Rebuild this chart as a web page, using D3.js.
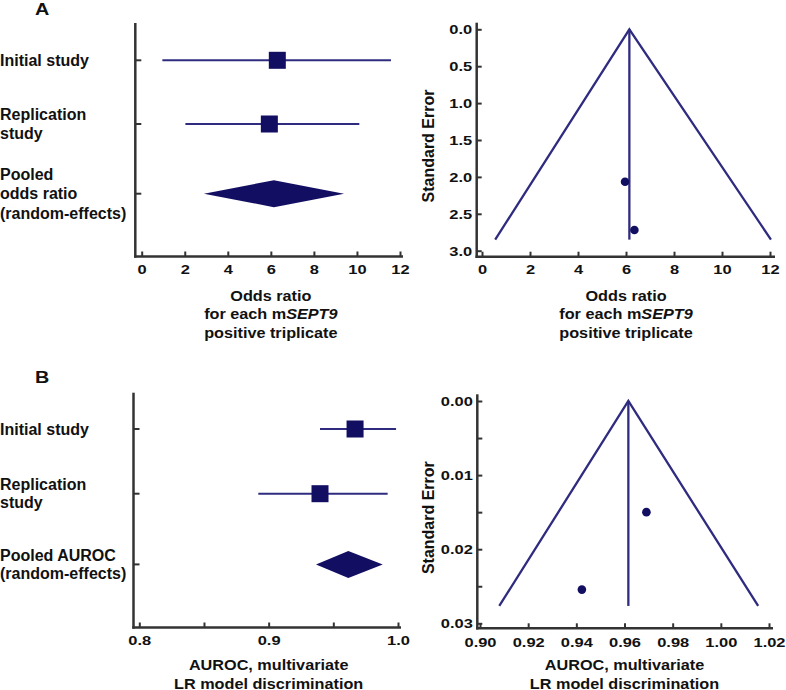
<!DOCTYPE html>
<html>
<head>
<meta charset="utf-8">
<script src="https://cdn.jsdelivr.net/npm/d3@7"></script>
<style>
  body { margin: 0; background: #fff; }
  svg { display: block; }
  text { font-family: 'Liberation Sans', Arial, Helvetica, sans-serif; font-weight: bold; fill: #111; }
</style>
</head>
<body>
<div id="Container"></div>
<script>
// ---- panel A : odds ratio per mSEPT9 positive triplicate
var rowsA = [["Initial study"], ["Replication", "study"], ["Pooled", "odds ratio", "(random-effects)"]];
var orEst = [6.30, 5.93];
var orLow = [0.96, 2.03];
var orHigh = [11.58, 10.11];
var orPooled = [2.89, 6.14, 9.40];        // low, estimate, high
var orTicks = [0, 2, 4, 6, 8, 10, 12];
var orTickLabels = ["0", "2", "4", "6", "8", "10", "12"];
var seTicksA = [0, 0.5, 1, 1.5, 2, 2.5, 3];
var seTickLabelsA = ["0.0", "0.5", "1.0", "1.5", "2.0", "2.5", "3.0"];
var funnelOr = [5.96, 6.35];
var funnelSeA = [2.065, 2.72];
var funnelLimA = [0.55, 12.04, 2.85];     // left bound, right bound, max SE

// ---- panel B : AUROC
var rowsB = [["Initial study"], ["Replication", "study"], ["Pooled AUROC", "(random-effects)"]];
var aucEst = [0.9668, 0.9397];
var aucLow = [0.9397, 0.892];
var aucHigh = [0.9985, 0.992];
var aucPooled = [0.9366, 0.9616, 0.9882];
var aucTicks = [0.8, 0.85, 0.9, 0.95, 1.0];
var aucTickLabels = ["0.8", "", "0.9", "", "1.0"];
var aucTicksF = [0.90, 0.92, 0.94, 0.96, 0.98, 1.00, 1.02];
var aucTickLabelsF = ["0.90", "0.92", "0.94", "0.96", "0.98", "1.00", "1.02"];
var seTicksB = [0, 0.005, 0.01, 0.015, 0.02, 0.025, 0.03];
var seTickLabelsB = ["0.00", "", "0.01", "", "0.02", "", "0.03"];
var funnelAuc = [0.9423, 0.9691];
var funnelSeB = [0.02545, 0.0150];
var funnelLimB = [0.908, 1.0155, 0.02766];

var lineCol = '#2f2c80', markCol = '#120e62', axisCol = '#333';
var tickSx = 1.22, titleSx = 1.12; // tick / title text is drawn wide in the original

var canvas = d3.select('#Container').append('svg')
    .attr('width', 786)
    .attr('height', 690);

function axisLines(g, ax, top, bottom, right) {
    g.append('line')
        .attr('x1', ax).attr('x2', ax)
        .attr('y1', top).attr('y2', bottom + 1.2)
        .attr('stroke', axisCol).attr('stroke-width', 2.5);
    g.append('line')
        .attr('x1', ax - 1.2).attr('x2', right)
        .attr('y1', bottom).attr('y2', bottom)
        .attr('stroke', axisCol).attr('stroke-width', 2.5);
}

function styleTicks(sel) {
    sel.select('.domain').remove();
    sel.selectAll('.tick line').attr('stroke', axisCol).attr('stroke-width', 2);
    sel.selectAll('.tick text')
        .attr('font-size', 13.5)
        .attr('fill', '#111')
        .attr('font-family', null);
}

function xTitle(g, cx, y, lines) {
    lines.forEach(function (l, i) {
        var t = g.append('text')
            .attr('transform', 'translate(' + cx + ',' + (y + i * 18.5) + ') scale(' + titleSx + ',1)')
            .attr('text-anchor', 'middle')
            .attr('font-size', 14.5);
        l.forEach(function (part) {
            t.append('tspan').text(part[0]).style('font-style', part[1] ? 'italic' : 'normal');
        });
    });
}

function forest(o) {
    var g = canvas.append('g');
    var x = d3.scaleLinear().domain(o.xDom).range(o.xRange);
    var y = d3.scaleLinear().domain([0, 1]).range(o.rowRange);
    var rowY = function (i) { return i < 2 ? y(i) : y(i) + 6; };

    axisLines(g, o.axisX, o.axisTop, o.axisBottom, o.axisRight);

    var xa = g.append('g')
        .attr('transform', 'translate(0,' + o.axisBottom + ')')
        .call(d3.axisBottom(x).tickValues(o.ticks)
            .tickFormat(function (d, i) { return o.tickLabels[i]; })
            .tickSize(-5).tickPadding(7.5));
    styleTicks(xa);
    xa.selectAll('.tick text').attr('transform', 'scale(' + tickSx + ',1)');

    // row ticks
    g.selectAll('rowtick').data(o.rows).enter()
        .append('line')
        .attr('x1', o.axisX).attr('x2', o.axisX + 6)
        .attr('y1', function (d, i) { return rowY(i); })
        .attr('y2', function (d, i) { return rowY(i); })
        .attr('stroke', axisCol).attr('stroke-width', 2);

    // row labels
    o.rows.forEach(function (lines, i) {
        var first = rowY(i) - (lines.length - 1) * o.lh / 2 + 5.5;
        lines.forEach(function (l, j) {
            g.append('text')
                .attr('x', 0)
                .attr('y', first + j * o.lh)
                .attr('font-size', 16)
                .text(l);
        });
    });

    // confidence intervals
    g.selectAll('ci').data(o.est).enter()
        .append('line')
        .attr('x1', function (d, i) { return x(o.low[i]); })
        .attr('x2', function (d, i) { return x(o.high[i]); })
        .attr('y1', function (d, i) { return rowY(i); })
        .attr('y2', function (d, i) { return rowY(i); })
        .attr('stroke', lineCol).attr('stroke-width', 2);

    g.selectAll('sq').data(o.est).enter()
        .append('rect')
        .attr('x', function (d) { return x(d) - 8.5; })
        .attr('y', function (d, i) { return rowY(i) - 8.5; })
        .attr('width', 17).attr('height', 17)
        .attr('fill', markCol);

    var py = rowY(2), p = o.pooled;
    g.append('path')
        .attr('d', 'M' + x(p[0]) + ',' + py + 'L' + x(p[1]) + ',' + (py - 13.5) +
            'L' + x(p[2]) + ',' + py + 'L' + x(p[1]) + ',' + (py + 13.5) + 'Z')
        .attr('fill', markCol);

    xTitle(g, (o.xRange[0] + o.xRange[1]) / 2, o.titleY, o.title);
}

function funnel(o) {
    var g = canvas.append('g');
    var x = d3.scaleLinear().domain(o.xDom).range(o.xRange);
    var y = d3.scaleLinear().domain(o.yDom).range(o.yRange);

    axisLines(g, o.axisX, o.axisTop, o.axisBottom, o.axisRight);

    var xa = g.append('g')
        .attr('transform', 'translate(0,' + o.axisBottom + ')')
        .call(d3.axisBottom(x).tickValues(o.xTicks)
            .tickFormat(function (d, i) { return o.xLabels[i]; })
            .tickSize(-5).tickPadding(o.xPad));
    styleTicks(xa);
    xa.selectAll('.tick text').attr('transform', 'scale(' + tickSx + ',1)');

    var ya = g.append('g')
        .attr('transform', 'translate(' + o.axisX + ',0)')
        .call(d3.axisLeft(y).tickValues(o.yTicks)
            .tickFormat(function (d, i) { return o.yLabels[i]; })
            .tickSize(-5).tickPadding(4));
    styleTicks(ya);
    ya.selectAll('.tick text')
        .attr('x', -4.5 / tickSx)
        .attr('transform', 'scale(' + tickSx + ',1)');

    g.append('text')
        .attr('transform', 'translate(' + o.yTitleX + ',' + ((o.yRange[0] + o.axisBottom) / 2 + 3) + ') rotate(-90)')
        .attr('text-anchor', 'middle')
        .attr('font-size', 16)
        .text('Standard Error');

    var c = o.center, lim = o.lim;
    g.append('path')
        .attr('d', 'M' + x(lim[0]) + ',' + y(lim[2]) + 'L' + x(c) + ',' + y(0) + 'L' + x(lim[1]) + ',' + y(lim[2]))
        .attr('fill', 'none')
        .attr('stroke', lineCol).attr('stroke-width', 2.3);
    g.append('line')
        .attr('x1', x(c)).attr('x2', x(c))
        .attr('y1', y(0)).attr('y2', y(lim[2]))
        .attr('stroke', lineCol).attr('stroke-width', 2.3);

    g.selectAll('pt').data(o.px).enter()
        .append('circle')
        .attr('cx', function (d) { return x(d); })
        .attr('cy', function (d, i) { return y(o.py[i]); })
        .attr('r', 4.3)
        .attr('fill', markCol);

    xTitle(g, (o.xRange[0] + o.xRange[1]) / 2, o.titleY, o.title);
}

// panel letters
canvas.append('text').attr('transform', 'translate(35,15) scale(1.2,1)').attr('font-size', 16.5).text('A');
canvas.append('text').attr('transform', 'translate(35,383.3) scale(1.2,1)').attr('font-size', 16.5).text('B');

var titleA = [[["Odds ratio", false]], [["for each m", false], ["SEPT9", true]], [["positive triplicate", false]]];
var titleB = [[["AUROC, multivariate", false]], [["LR model discrimination", false]]];

forest({
    xDom: [0, 12], xRange: [141.7, 400], rowRange: [60.3, 124],
    axisX: 135.3, axisTop: 23, axisBottom: 256.5, axisRight: 403,
    ticks: orTicks, tickLabels: orTickLabels,
    rows: rowsA, lh: 19.5,
    est: orEst, low: orLow, high: orHigh, pooled: orPooled,
    titleY: 300.5, title: titleA
});

funnel({
    xDom: [0, 12], xRange: [482, 770], yDom: [0, 3], yRange: [29.3, 250.7],
    axisX: 476.7, axisTop: 22.7, axisBottom: 256.7, axisRight: 775,
    xTicks: orTicks, xLabels: orTickLabels, xPad: 7.5,
    yTicks: seTicksA, yLabels: seTickLabelsA, yTitleX: 434,
    center: orPooled[1], lim: funnelLimA, px: funnelOr, py: funnelSeA,
    titleY: 300.5, title: titleA
});

forest({
    xDom: [0.8, 1.0], xRange: [139.3, 398], rowRange: [429, 493.7],
    axisX: 133.5, axisTop: 392.7, axisBottom: 627.5, axisRight: 401,
    ticks: aucTicks, tickLabels: aucTickLabels,
    rows: rowsB, lh: 18.5,
    est: aucEst, low: aucLow, high: aucHigh, pooled: aucPooled,
    titleY: 670, title: titleB
});

funnel({
    xDom: [0.90, 1.02], xRange: [480, 769], yDom: [0, 0.03], yRange: [401, 623.3],
    axisX: 477.3, axisTop: 394.3, axisBottom: 628.3, axisRight: 773,
    xTicks: aucTicksF, xLabels: aucTickLabelsF, xPad: 9,
    yTicks: seTicksB, yLabels: seTickLabelsB, yTitleX: 434,
    center: aucPooled[1], lim: funnelLimB, px: funnelAuc, py: funnelSeB,
    titleY: 670, title: titleB
});
</script>
</body>
</html>
